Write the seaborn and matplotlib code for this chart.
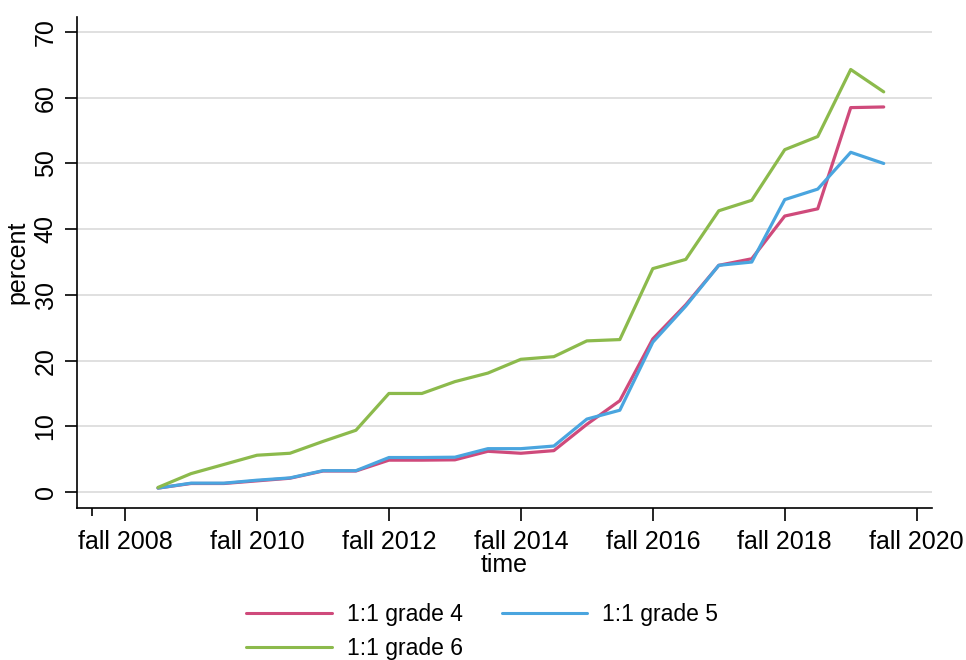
import numpy as np
import pandas as pd
import matplotlib
matplotlib.use("Agg")
import matplotlib.pyplot as plt
import seaborn as sns

# half-year periods, spring 2009 .. spring 2020 (year + 0.5 = fall)
periodos = [2009.0 + 0.5 * i for i in range(23)]

grade4 = [0.6, 1.3, 1.3, 1.7, 2.1, 3.2, 3.2, 4.85, 4.85, 4.9, 6.2, 5.9,
          6.3, 10.3, 13.9, 23.3, 28.5, 34.5, 35.5, 42.0, 43.1, 58.5, 58.6]
grade5 = [0.6, 1.35, 1.35, 1.8, 2.15, 3.25, 3.25, 5.25, 5.25, 5.3, 6.6, 6.6,
          7.0, 11.1, 12.45, 22.8, 28.3, 34.5, 35.0, 44.5, 46.1, 51.7, 50.0]
grade6 = [0.7, 2.8, 4.2, 5.6, 5.9, 7.7, 9.4, 15.0, 15.0, 16.8, 18.1, 20.2,
          20.6, 23.0, 23.2, 34.0, 35.4, 42.8, 44.4, 52.1, 54.1, 64.3, 60.9]

serie_nomes = ["1:1 grade 4", "1:1 grade 5", "1:1 grade 6"]
cores = ["#cf4a7b", "#4aa5df", "#8cba4c"]

tick_anos = [2008, 2010, 2012, 2014, 2016, 2018, 2020]
tick_labels = [f"fall {a}" for a in tick_anos]
y_ticks = [0, 10, 20, 30, 40, 50, 60, 70]

df = pd.DataFrame({"time": periodos * 3,
                   "percent": grade4 + grade5 + grade6,
                   "serie": np.repeat(serie_nomes, len(periodos))})

sns.set_style("white")
plt.rcParams["font.family"] = ["Liberation Sans", "DejaVu Sans"]
plt.rcParams["text.color"] = "black"
plt.rcParams["axes.labelcolor"] = "black"
plt.rcParams["xtick.color"] = "black"
plt.rcParams["ytick.color"] = "black"

fig = plt.figure(figsize=(9.66, 6.6), dpi=100)
ax = fig.add_axes([77 / 966, 1 - 508 / 660, (932 - 77) / 966, (508 - 17) / 660])

sns.lineplot(data=df, x="time", y="percent", hue="serie", palette=cores,
             linewidth=2.3, ax=ax, legend=False)

ax.set_xlim(2007.772, 2020.732)
ax.set_ylim(-2.43, 72.29)
ax.set_xticks([a + 0.5 for a in tick_anos])
ax.set_xticklabels(tick_labels)
ax.set_xticks([2008.0], minor=True)
ax.set_yticks(y_ticks)
ax.set_yticklabels([str(v) for v in y_ticks], rotation=90, va="center")

ax.grid(axis="y", color="#dadada", linewidth=1.2)
ax.grid(axis="x", visible=False)
ax.set_axisbelow(True)
for s in ["top", "right"]:
    ax.spines[s].set_visible(False)
for s in ["left", "bottom"]:
    ax.spines[s].set_color("black")
    ax.spines[s].set_linewidth(1.2)

ax.tick_params(axis="x", which="major", direction="out", length=9, width=1.2,
               labelsize=18, pad=7, bottom=True)
ax.tick_params(axis="y", which="major", direction="out", length=9, width=1.2,
               labelsize=18, pad=5, left=True)
ax.tick_params(axis="x", which="minor", direction="out", length=6, width=1.2,
               bottom=True)
ax.set_xlabel("time", fontsize=18, labelpad=-1)
ax.set_ylabel("percent", fontsize=18, labelpad=3)

handles = [plt.Line2D([], [], color=c, linewidth=2.2) for c in cores]
# ncol=2 fills column-first, so reorder to get grade 4 / grade 5 on the first row
ordem = [0, 2, 1]
fig.legend([handles[i] for i in ordem], [serie_nomes[i] for i in ordem],
           loc="center", bbox_to_anchor=(0.499, 0.043),
           ncol=2, frameon=False, fontsize=16.5, handlelength=3.75,
           handletextpad=0.65, columnspacing=1.7, labelspacing=0.45)

fig.savefig("out.png", dpi=100)
